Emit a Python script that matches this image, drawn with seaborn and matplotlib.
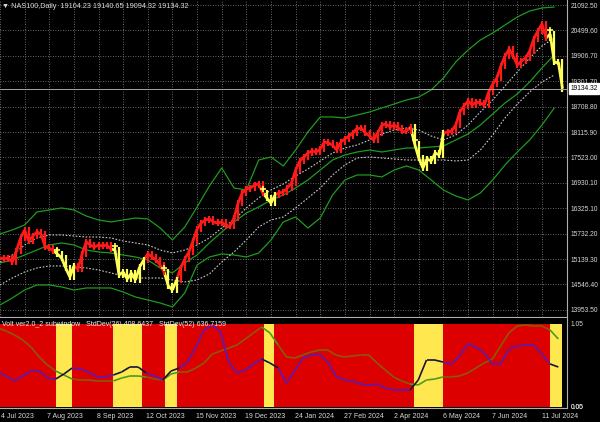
import matplotlib
matplotlib.use("Agg")
import numpy as np
import seaborn as sns
import matplotlib.pyplot as plt
import matplotlib.transforms as mtransforms
from matplotlib.collections import LineCollection

# NAS100 daily closes, one value every 2 bars (bar 0 = 4 Jul 2023)
close = [15165, 15142, 15165, 15071, 15329, 15634, 15821, 15563, 15680, 15774,
         15727, 15422, 15399, 15329, 15259, 15165, 14931, 14720, 14977, 14907,
         15259, 15540, 15469, 15422, 15469, 15446, 15469, 15376, 15352, 14767,
         14837, 14673, 14813, 14649, 14954, 15118, 15259, 15188, 15118, 15001,
         14837, 14509, 14415, 14649, 14931, 15142, 15305, 15563, 15844, 15985,
         16055, 16078, 16008, 15985, 16008, 15915, 15915, 16102, 16453, 16688,
         16781, 16805, 16875, 16898, 16688, 16570, 16453, 16641, 16688, 16711,
         16805, 16922, 17227, 17437, 17531, 17625, 17672, 17648, 17718, 17883,
         17859, 17812, 17695, 17883, 17953, 18023, 18094, 18211, 18211, 18094,
         18023, 17930, 18094, 18281, 18304, 18234, 18281, 18211, 18140, 18140,
         18234, 17836, 17508, 17273, 17484, 17437, 17625, 17578, 18094, 18117,
         18140, 18281, 18585, 18726, 18843, 18749, 18820, 18796, 18749, 19054,
         19241, 19382, 19663, 19897, 20061, 19897, 19687, 19780, 19851, 20015,
         20296, 20483, 20647, 20319, 20413, 19757, 19757, 19134.32]

# envelope lines and averages, one value every 6 bars
upper_band = [15727, 15821, 15938, 16243, 16290, 16337, 16290, 16149, 16055, 16009,
              16055, 16102, 16079, 15868, 15587, 15891, 16360, 16852, 17274, 16805,
              16758, 17461, 17531, 17321, 17695, 18117, 18469, 18469, 18445, 18516,
              18586, 18680, 18773, 18867, 18937, 19101, 19382, 19757, 20038, 20273,
              20437, 20624, 20812, 20952, 21023, 21046]
mid_band = [15048, 15118, 15235, 15352, 15470, 15517, 15470, 15352, 15306, 15282,
            15235, 15188, 15118, 14931, 14814, 15048, 15235, 15517, 15774, 16009,
            16219, 16360, 16524, 16641, 16805, 16993, 17227, 17461, 17578, 17649,
            17695, 17649, 17695, 17742, 17742, 17766, 17789, 17930, 18070, 18281,
            18539, 18797, 19008, 19289, 19617, 19921]
lower_band = [14064, 14228, 14415, 14532, 14532, 14486, 14415, 14462, 14462, 14462,
              14368, 14251, 14181, 14111, 14017, 14345, 15001, 15188, 15259, 15235,
              15188, 15282, 15587, 16009, 16126, 15868, 16102, 16641, 16993, 17110,
              17110, 17063, 17227, 17321, 17227, 16993, 16758, 16618, 16524, 16688,
              16993, 17344, 17649, 17930, 18281, 18680]
ma_fast = [15071, 15235, 15470, 15634, 15704, 15704, 15681, 15657, 15657, 15634,
           15563, 15517, 15470, 15352, 15282, 15352, 15470, 15634, 15868, 16055,
           16337, 16571, 16758, 16899, 17086, 17250, 17438, 17625, 17742, 17813,
           17930, 18070, 18164, 18211, 18164, 18024, 17930, 18047, 18281, 18586,
           18867, 19195, 19523, 19851, 20132, 20320]
ma_slow = [14532, 14696, 14837, 14931, 14978, 14978, 14954, 14931, 14884, 14814,
           14743, 14696, 14696, 14696, 14650, 14603, 14650, 14790, 15071, 15306,
           15587, 15891, 16055, 16126, 16337, 16571, 16805, 17110, 17344, 17508,
           17531, 17508, 17485, 17461, 17461, 17461, 17461, 17438, 17461, 17695,
           18047, 18445, 18773, 19054, 19289, 19453]

# subwindow (normalised std devs), one value every 4 bars
std26 = [0.414, 0.361, 0.295, 0.361, 0.427, 0.427, 0.334, 0.321, 0.387, 0.467,
         0.454, 0.414, 0.348, 0.348, 0.374, 0.414, 0.480, 0.480, 0.401, 0.361,
         0.308, 0.427, 0.467, 0.546, 0.745, 0.970, 1.037, 0.944, 0.546, 0.401,
         0.440, 0.520, 0.586, 0.533, 0.467, 0.268, 0.427, 0.599, 0.639, 0.652,
         0.546, 0.361, 0.308, 0.295, 0.255, 0.242, 0.255, 0.202, 0.175, 0.175,
         0.175, 0.308, 0.573, 0.573, 0.546, 0.520, 0.626, 0.785, 0.745, 0.666,
         0.520, 0.520, 0.719, 0.758, 0.772, 0.772, 0.652, 0.520, 0.480]
std52 = [0.997, 0.957, 0.904, 0.838, 0.745, 0.613, 0.507, 0.427, 0.374, 0.321,
         0.308, 0.308, 0.295, 0.295, 0.295, 0.334, 0.361, 0.361, 0.348, 0.321,
         0.308, 0.387, 0.414, 0.414, 0.467, 0.533, 0.652, 0.692, 0.732, 0.772,
         0.851, 0.931, 1.010, 0.931, 0.772, 0.613, 0.599, 0.639, 0.679, 0.705,
         0.705, 0.639, 0.613, 0.626, 0.639, 0.639, 0.533, 0.440, 0.348, 0.295,
         0.255, 0.242, 0.308, 0.321, 0.348, 0.348, 0.361, 0.401, 0.467, 0.533,
         0.586, 0.758, 0.931, 1.023, 1.037, 1.023, 1.023, 0.970, 0.851]

# bar ranges where the volatility filter is "yellow"
yellow_spans = [(28, 36), (56, 70), (81, 87), (129, 134), (202, 216), (268, 274)]

price_ticks = [13953.50, 14546.40, 15139.30, 15732.20, 16325.10, 16930.10, 17523.00,
               18115.90, 18708.80, 19301.70, 19906.70, 20499.60, 21092.50]
grid_bars = list(range(0, 276, 12))
date_bars = [0, 24, 48, 72, 96, 120, 144, 168, 192, 216, 240, 264]
date_labels = ["4 Jul 2023", "7 Aug 2023", "8 Sep 2023", "12 Oct 2023", "15 Nov 2023",
               "19 Dec 2023", "24 Jan 2024", "27 Feb 2024", "2 Apr 2024", "6 May 2024",
               "7 Jun 2024", "11 Jul 2024"]
last_price = 19134.32
header = "\u25bc NAS100,Daily  19104.23 19140.65 19094.32 19134.32"
sub_title = "Volt ver2.0_2 subwindow   StdDev(26) 408.6437   StdDev(52) 636.7159"

RED = "#ff1a1a"
YEL = "#ffff5a"
BG_RED = "#dd0000"
BG_YEL = "#ffe84f"
TXT = "#d8d8d8"

sns.set_theme(style="dark", rc={"axes.facecolor": "black", "figure.facecolor": "black",
                                "axes.edgecolor": "#b0b0b0"})
plt.rcParams["font.family"] = ["Liberation Sans", "DejaVu Sans"]


def in_yellow(b):
    return any(s <= b <= e for s, e in yellow_spans)


fig = plt.figure(figsize=(6, 4.22), dpi=100)
ax = fig.add_axes([0, 1 - 317 / 422, 567 / 600, 317 / 422])
sub = fig.add_axes([0, 1 - 408 / 422, 567 / 600, 90 / 422])

xlim = (0.97, 276.2)

# ---- main window ----
xb = np.arange(len(upper_band)) * 6
sns.lineplot(x=xb, y=upper_band, ax=ax, color="#1f9a1f", lw=0.9)
sns.lineplot(x=xb, y=mid_band, ax=ax, color="#1f9a1f", lw=0.9)
sns.lineplot(x=xb, y=lower_band, ax=ax, color="#1f9a1f", lw=0.9)
sns.lineplot(x=xb, y=ma_fast, ax=ax, color="#c8c8c8", lw=0.8, linestyle=(0, (1.5, 1.5)))
sns.lineplot(x=xb, y=ma_slow, ax=ax, color="#c8c8c8", lw=0.8, linestyle=(0, (1.5, 1.5)))

xc = np.arange(len(close)) * 2
c = np.array(close, dtype=float)
cols = [YEL if in_yellow(b) else RED for b in xc]
segs = [[(xc[i - 1], c[i - 1]), (xc[i], c[i])] for i in range(1, len(c))]
ax.add_collection(LineCollection(segs, colors=cols[1:], linewidths=2.0))
lo = np.minimum(c[:-1], c[1:]) - 70
hi = np.maximum(c[:-1], c[1:]) + 70
ax.vlines(xc[1:], lo, hi, colors=cols[1:], lw=1.6)
# markers at the start of each yellow regime
for s, e in yellow_spans:
    k = min(s // 2, len(c) - 1)
    ax.plot(xc[k], c[k] + 90, marker="+", color=YEL, ms=5, mew=1.2)

ax.axhline(last_price, color="#a8a8a8", lw=0.7)
ax.set_xlim(*xlim)
ax.set_ylim(13782, 21210)
ax.set_xticks(grid_bars)
ax.set_yticks(price_ticks)
ax.yaxis.tick_right()
ax.set_yticklabels([f"{v:.2f}" for v in price_ticks], color=TXT, fontsize=4.8)
ax.tick_params(axis="y", length=1, pad=1.5, colors="#b0b0b0", labelcolor=TXT)
ax.tick_params(axis="x", length=0, labelbottom=False)
ax.grid(True, color="#8a8a8a", linestyle=(0, (1, 2)), linewidth=0.6)
for side in ["top", "left"]:
    ax.spines[side].set_visible(False)
ax.spines["right"].set_linewidth(0.8)
ax.spines["bottom"].set_linewidth(0.8)

trans = mtransforms.blended_transform_factory(ax.transAxes, ax.transData)
ax.text(1.006, last_price, "19134.32", transform=trans, fontsize=4.8, color="black",
        va="center", ha="left",
        bbox=dict(boxstyle="square,pad=0.25", fc="white", ec="white"))
fig.text(2 / 600, 1 - 6 / 422, header, fontsize=5.2, color=TXT, va="center", ha="left")

# ---- subwindow ----
sub.fill_between([xlim[0], 274], -0.05, 1.05, color=BG_RED, lw=0)
for s, e in yellow_spans:
    sub.fill_between([s, e], -0.05, 1.05, color=BG_YEL, lw=0)

xs = np.arange(len(std26)) * 4
for vals, c_red, c_yel in [(std52, "#8a5a0a", "#4f9a1a"), (std26, "#5a1ab4", "#14143c")]:
    v = np.array(vals)
    sg = [[(xs[i - 1], v[i - 1]), (xs[i], v[i])] for i in range(1, len(v))]
    sc = [c_yel if in_yellow((xs[i - 1] + xs[i]) / 2) else c_red for i in range(1, len(v))]
    sub.add_collection(LineCollection(sg, colors=sc, linewidths=1.2))

sub.set_xlim(*xlim)
sub.set_ylim(-0.063, 1.1295)
sub.set_xticks([])
sub.set_yticks([])
sub.grid(False)
for side in ["top", "left"]:
    sub.spines[side].set_visible(False)
sub.spines["right"].set_linewidth(0.8)
sub.spines["bottom"].set_linewidth(0.8)
sub.text(2, 1.045, sub_title, fontsize=5, color="#f0f0f0", va="center", ha="left")

strans = mtransforms.blended_transform_factory(sub.transAxes, sub.transData)
sub.text(1.006, 1.05, "1.05", transform=strans, fontsize=4.8, color=TXT, va="center", ha="left")
sub.text(1.006, -0.05, "0.05", transform=strans, fontsize=4.8, color=TXT, va="center", ha="left")
sub.text(1.006, -0.05, "0.00", transform=strans, fontsize=4.8, color=TXT, va="center", ha="left")

dtrans = mtransforms.blended_transform_factory(sub.transData, sub.transAxes)
for b, lab in zip(date_bars, date_labels):
    sub.text(max(b, xlim[0] + 0.3), -0.1, lab, transform=dtrans, fontsize=5, color=TXT,
             va="center", ha="left", clip_on=False)

fig.savefig("out.png", dpi=100, facecolor="black")
